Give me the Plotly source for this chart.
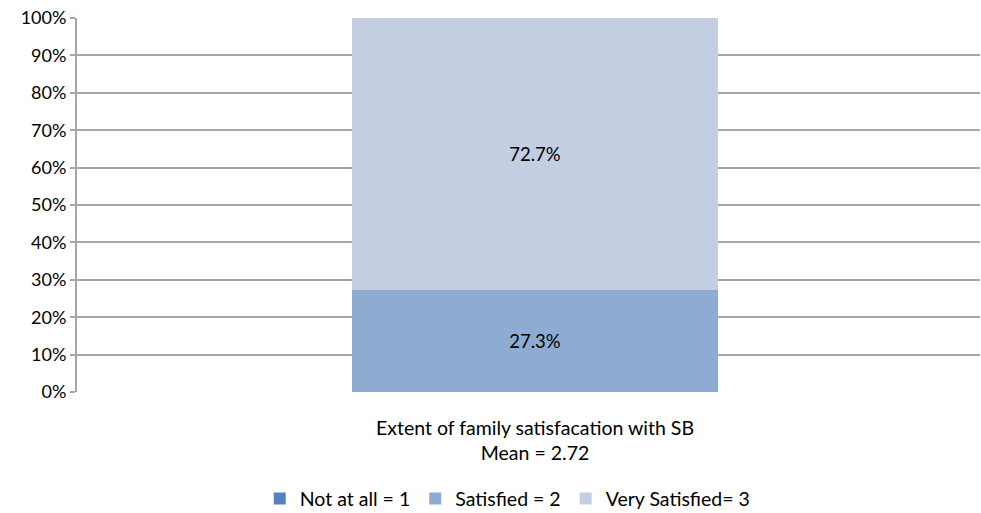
import plotly.graph_objects as go

categories = ["Extent of family satisfacation with SB<br>Mean = 2.72"]
series_names = ["Not at all = 1", "Satisfied = 2", "Very Satisfied= 3"]
series_values = [[0.0], [27.3], [72.7]]
series_colors = ["#5383BE", "#8EACD2", "#C3CEE3"]
y_ticks = list(range(0, 101, 10))
y_tick_labels = [f"{v}%" for v in y_ticks]

FONT = "Lato, 'Open Sans', sans-serif"

fig = go.Figure()
for name, vals, color in zip(series_names, series_values, series_colors):
    fig.add_trace(go.Bar(
        x=categories,
        y=vals,
        name=name,
        marker=dict(color=color, line=dict(width=0)),
        text=[f"{v:.1f}%" if v > 0 else "" for v in vals],
        textposition="inside",
        insidetextanchor="middle",
        textfont=dict(family=FONT, size=18.5, color="#000000"),
        width=0.405,
        hoverinfo="skip",
    ))

fig.update_layout(
    barmode="stack",
    width=981,
    height=513,
    margin=dict(l=77, r=1, t=18, b=121, autoexpand=False),
    paper_bgcolor="white",
    plot_bgcolor="white",
    font=dict(family=FONT, size=18, color="#000000"),
    showlegend=True,
    legend=dict(
        orientation="h",
        traceorder="normal",
        x=0.477, xanchor="center",
        y=-0.338, yanchor="bottom",
        font=dict(family=FONT, size=19.5, color="#000000"),
        itemwidth=30,
    ),
    xaxis=dict(
        range=[-0.5072, 0.4928],
        showgrid=False,
        showline=False,
        ticks="",
        ticklabelstandoff=22,
        tickfont=dict(family=FONT, size=19.5, color="#000000"),
        fixedrange=True,
    ),
    yaxis=dict(
        range=[0, 100],
        tickvals=y_ticks,
        ticktext=y_tick_labels,
        showgrid=True,
        gridcolor="#A6A6A6",
        gridwidth=2,
        showline=True,
        linecolor="#A6A6A6",
        linewidth=2,
        ticks="outside",
        ticklen=5,
        tickwidth=2,
        tickcolor="#A6A6A6",
        tickfont=dict(family=FONT, size=18, color="#000000"),
        zeroline=False,
        fixedrange=True,
    ),
)

fig.write_html("out.html")
